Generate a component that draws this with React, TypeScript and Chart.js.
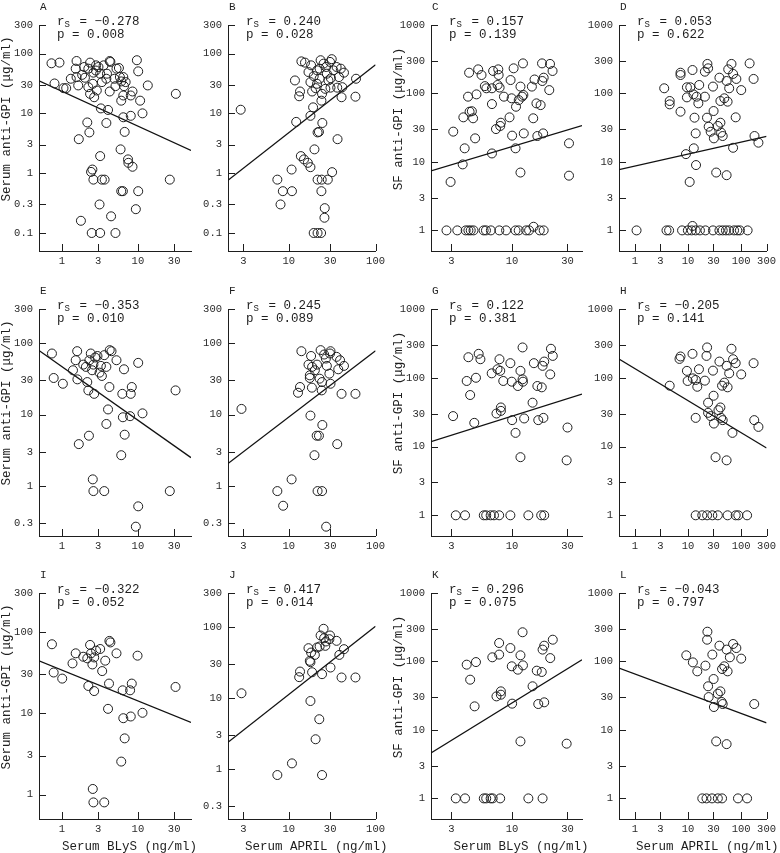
import React, { useEffect, useRef } from "react";
import { Chart, registerables } from "chart.js";
Chart.register(...registerables);

// ---------- tick labels ----------
const yTicksSerum8 = [0.1, 0.3, 1, 3, 10, 30, 100, 300];
const yTicksSerum7 = [0.3, 1, 3, 10, 30, 100, 300];
const yTicksSerum6 = [1, 3, 10, 30, 100, 300];
const yTicksSF = [1, 3, 10, 30, 100, 300, 1000];
const xTicksBlysSerum = [1, 3, 10, 30];
const xTicksAprilSerum = [3, 10, 30, 100];
const xTicksBlysSF = [3, 10, 30];
const xTicksAprilSF = [1, 3, 10, 30, 100, 300];

// ---------- axis ranges ----------
const rangeBlysSerum = [0.5, 50];
const rangeAprilSerum = [2, 100];
const rangeBlysSF = [2, 40];
const rangeAprilSF = [0.5, 300];
const yRangeRow1Serum = [0.05, 300];
const yRangeRow2Serum = [0.2, 300];
const yRangeISerum = [0.5, 300];
const yRangeJSerum = [0.2, 300];
const yRangeSF = [0.5, 1000];

// ---------- titles ----------
const panelLetters = ["A", "B", "C", "D", "E", "F", "G", "H", "I", "J", "K", "L"];
const rsValues = ["\u22120.278", "0.240", "0.157", "0.053", "\u22120.353", "0.245", "0.122", "\u22120.205", "\u22120.322", "0.417", "0.296", "\u22120.043"];
const pValues = ["0.008", "0.028", "0.139", "0.622", "0.010", "0.089", "0.381", "0.141", "0.052", "0.014", "0.075", "0.797"];
const yTitleSerum = "Serum anti-GPI (\u03bcg/ml)";
const yTitleSF = "SF anti-GPI (\u03bcg/ml)";
const xTitleBlys = "Serum BLyS (ng/ml)";
const xTitleApril = "Serum APRIL (ng/ml)";

// ---------- regression lines (endpoints at axis limits) ----------
const lineA = [[0.5, 35], [50, 2.4]];
const lineB = [[2, 0.76], [100, 65]];
const lineC = [[2, 7.4], [40, 34]];
const lineD = [[0.5, 7.7], [300, 23.7]];
const lineE = [[0.5, 79], [50, 2.5]];
const lineF = [[2, 2.07], [100, 78]];
const lineG = [[2, 11.8], [40, 58]];
const lineH = [[0.5, 187], [300, 9.5]];
const lineI = [[0.5, 44], [50, 7.7]];
const lineJ = [[2, 2.4], [100, 102]];
const lineK = [[2, 4.6], [40, 106]];
const lineL = [[0.5, 80], [300, 12.7]];

// ---------- scatter points [x, y] ----------
const pointsA = [
  [0.73, 68.7], [0.93, 70.5], [0.8, 31.6], [1.05, 26.4], [1.14, 26.4], [1.31, 37.9], [1.56, 75], [1.52, 55.9], [1.56, 40.4], [1.64, 29.3],
  [2.01, 39.4], [1.97, 59.6], [2.35, 70.5], [2.23, 55.9], [2.23, 27.4], [2.35, 21.2], [2.55, 31.2], [2.6, 47.9], [2.66, 18.6], [2.88, 24.1],
  [3.03, 59.6], [2.82, 63.5], [3.19, 46], [3.36, 33.3], [3.54, 63.5], [3.85, 37.9], [3.92, 46], [4.26, 75], [4.35, 72.4], [4.26, 23.2],
  [4.92, 37.9], [5.23, 55.9], [5.07, 28.5], [5.63, 57.3], [5.8, 40.4], [6.04, 34.2], [6.43, 40.4], [6.57, 28.5], [6.04, 16.3], [6.43, 19.9],
  [6.9, 33.3], [8.06, 19.9], [8.5, 23.2], [9.7, 77.3], [10.1, 50.4], [10.7, 16.3], [13.5, 29.3], [31.6, 21.2], [2.8, 52], [1.85, 44],
  [3.26, 12.1], [4.05, 11.4], [6.43, 8.6], [8.06, 9.1], [11.5, 10], [3.85, 6.9], [2.16, 7.05], [2.3, 4.8], [1.67, 3.7], [6.7, 4.9],
  [5.92, 2.5], [3.19, 1.93], [7.42, 1.7], [7.5, 1.49], [8.5, 1.28], [2.52, 1.15], [2.42, 1.05], [2.6, 0.78], [3.36, 0.78], [3.65, 0.78],
  [26.3, 0.78], [6.04, 0.5], [6.35, 0.5], [10.1, 0.5], [3.13, 0.3], [9.4, 0.25], [4.44, 0.19], [1.78, 0.16], [2.47, 0.1], [3.19, 0.1], [5.07, 0.1],
];
const pointsB = [
  [2.8, 11.5], [7.4, 0.78], [8.05, 0.3], [8.56, 0.5], [10.8, 1.15], [10.9, 0.5], [11.8, 35.5], [12.2, 7.2], [13.5, 23.2], [13.2, 19.3],
  [14, 74], [13.8, 1.93], [15, 1.7], [16.6, 1.49], [17.8, 1.26], [15.4, 70.5], [16.9, 49], [17.8, 9.1], [17.8, 33.3], [18.1, 63.5],
  [18.6, 23.2], [19.1, 12.6], [19.4, 42], [19.8, 2.5], [19.4, 0.1], [20.4, 26.4], [21.2, 52.4], [21.2, 31.2], [21.5, 4.8], [22.3, 4.9],
  [21.5, 0.78], [21.5, 0.1], [22.7, 37.9], [23.3, 77.3], [23.6, 0.1], [23.8, 16.3], [24, 0.78], [23.8, 0.5], [24.2, 21.2], [24.4, 6.9],
  [25.2, 67.8], [26, 0.26], [25.8, 0.18], [26.4, 25.7], [27.5, 46], [27, 59.6], [28.2, 0.78], [29.9, 72.4], [30.3, 26.9], [30.6, 38.6],
  [31.3, 80.5], [31.6, 1.04], [32.7, 52.4], [35.6, 59.6], [36.2, 26.9], [36.5, 3.7], [37.9, 40.4], [39.8, 55.9], [40.6, 18.6], [41.4, 27.4],
  [43.3, 47.9], [58.7, 19], [59.6, 37.9], [22.7, 55.9], [28.7, 35.5],
];
const pointsC = [
  [2.72, 1], [3.37, 1], [3.98, 1], [4.2, 1], [4.4, 1], [4.65, 1], [5.68, 1], [5.95, 1], [6.56, 1], [7.76, 1],
  [8.87, 1], [10.7, 1], [11.4, 1], [13.2, 1], [14, 1], [15.3, 1.13], [17.3, 1], [18.7, 1],
  [2.95, 5.1], [3.11, 27.7], [3.75, 9.2], [3.9, 15.8], [3.8, 44.8], [4.17, 89.8], [4.26, 201], [4.3, 54.2], [4.5, 55], [4.61, 43.4],
  [4.8, 22.1], [4.93, 97], [5.1, 225], [5.45, 186], [5.82, 128], [6, 119], [6.7, 119], [6.7, 70], [6.7, 13.3], [6.86, 213],
  [7.26, 30.2], [7.6, 225], [7.65, 186], [7.5, 133], [7.8, 122], [7.9, 33.5], [8, 37.4], [8.5, 89.8], [9.5, 44.8], [9.7, 157],
  [9.9, 85], [10, 24.2], [10.3, 233], [10.7, 15.8], [10.8, 64], [11.4, 80], [11.8, 7], [11.8, 126], [12.2, 89.8], [12.4, 275],
  [12.5, 95], [12.6, 26.1], [14.8, 126], [15.2, 43.4], [15.6, 160], [16.2, 71.7], [16.5, 23.9], [17.6, 67.6], [18.1, 275], [18.2, 152],
  [18.7, 170], [18.5, 26.1], [20.9, 112], [21.2, 270], [22.3, 213], [30.9, 18.7], [30.9, 6.3],
];
const pointsD = [
  [1.07, 1], [3.92, 1], [4.39, 1], [7.7, 1], [9.9, 1], [11.7, 1], [12.1, 1.16], [13.9, 1], [16.7, 1], [21.2, 1],
  [29.4, 1], [38.9, 1], [44.8, 1], [51.6, 1], [59.4, 1], [73.3, 1], [84.5, 1], [94.5, 1], [132, 1],
  [3.55, 119], [4.5, 77.6], [4.5, 69.3], [7.2, 201], [7.2, 186], [7.2, 54.2], [9.5, 123], [9.5, 87.7], [9.1, 13], [10.7, 5.1],
  [11, 123], [12.1, 220], [12.6, 97], [12.8, 15.8], [13.2, 44.3], [13.9, 26.1], [14.1, 9], [14.5, 89.8], [15.6, 71.7], [16.2, 133],
  [20.7, 89.8], [20.7, 208], [23.1, 270], [23.8, 233], [22.7, 44.3], [24.4, 32.7], [26.6, 27.6], [29.4, 126], [30.2, 55.4], [30.6, 22.1],
  [33.8, 7], [36.3, 33.5], [40.6, 37.4], [38.9, 170], [40.6, 77.6], [41.8, 26.8], [44.8, 23.9], [48.1, 85], [53.1, 152], [55.4, 75.9],
  [53.1, 6.4], [57, 225], [59.4, 119], [65.6, 270], [70.3, 193], [70.3, 16.1], [78.7, 44.8], [81, 163], [100, 112], [144, 275],
  [171, 163], [178, 23.9], [211, 19.1],
];
const pointsE = [
  [0.74, 71.5], [0.78, 32.5], [1.03, 27], [1.4, 41.7], [1.52, 57.6], [1.59, 77.1], [1.6, 31.1], [1.67, 3.86], [1.91, 50], [2.07, 46.5],
  [2.16, 28.5], [2.23, 21.8], [2.27, 5.06], [2.3, 57.6], [2.4, 71.5], [2.5, 41.7], [2.6, 50], [2.66, 19.5], [2.55, 1.24], [2.6, 0.85],
  [2.74, 62.9], [2.94, 66], [3.13, 38.6], [3.26, 48], [3.36, 34.7], [3.61, 67.8], [3.61, 0.85], [3.85, 7.39], [3.85, 46.5], [4.05, 11.8],
  [4.22, 24.3], [4.26, 79.7], [4.5, 77], [5.23, 57.6], [6.24, 19.5], [6.35, 9.17], [6.57, 43], [6.7, 5.23], [6.04, 2.7], [7.9, 9.5],
  [8.06, 19.5], [8.31, 24.3], [10.1, 0.52], [9.4, 0.27], [10.1, 52.9], [11.5, 10.4], [26.3, 0.85], [31.3, 21.8],
];
const pointsF = [
  [2.86, 12], [7.4, 0.85], [8.63, 0.53], [10.8, 1.24], [12.8, 20.2], [13.5, 24.3], [14, 77], [16.9, 50], [17.8, 9.68], [17.5, 35.4],
  [17.5, 32.5], [18.1, 66], [18.5, 23.8], [18.6, 46.5], [19.8, 2.7], [20, 41.7], [21, 5.06], [21.2, 50], [21.5, 0.85], [22.3, 5.06],
  [22.7, 31.8], [23.3, 79.7], [24, 21.8], [24.2, 0.85], [24.4, 7.15], [24.2, 28.5], [25.6, 69.2], [26.8, 60.8], [27, 0.27], [27.5, 48],
  [29.4, 37.4], [29.9, 71.5], [30.3, 77], [30.3, 27], [35.6, 64.2], [36.2, 3.86], [37.2, 43], [39, 57.6], [40.6, 19.5], [43.3, 48],
  [58.7, 19.5],
];
const pointsG = [
  [3.27, 1], [3.93, 1], [5.7, 1], [5.98, 1], [6.53, 1], [6.98, 1], [7.73, 1], [9.66, 1], [13.8, 1], [17.8, 1], [18.9, 1],
  [3.1, 27.7], [4.06, 89.8], [4.2, 199], [4.35, 56.1], [4.72, 22.1], [4.88, 100], [5.15, 223], [5.33, 186], [6.67, 116], [7.33, 30.2],
  [7.48, 133], [7.78, 186], [7.9, 126], [8, 33], [8, 37], [8.39, 89.8], [9.66, 163], [9.93, 87.7], [10, 24.2], [10.7, 15.8],
  [11.2, 75.9], [11.8, 7], [11.8, 126], [12.3, 95], [12.3, 276], [12.4, 87.7], [12.7, 25.6], [15, 43.4], [15.4, 163], [16.5, 75.9],
  [16.8, 24.2], [18, 72.6], [18.3, 149], [18.6, 26.1], [18.9, 172], [21.3, 112], [21.6, 264], [22.4, 208], [30, 18.9], [29.5, 6.3],
];
const pointsH = [
  [13.9, 1], [18.5, 1], [22.8, 1], [28.6, 1], [36.3, 1], [55.4, 1], [78.7, 1], [88.1, 1], [129, 1],
  [4.5, 76.7], [6.89, 188], [7.2, 204], [9.5, 126], [9.8, 89.8], [12.1, 223], [12.3, 98], [13.9, 93], [13.9, 26.1], [14.9, 74],
  [16, 133], [20.7, 90.8], [22.2, 208], [22.8, 276], [23.8, 43.4], [23.8, 30.9], [26.6, 27.7], [29.4, 127], [30.2, 54.8], [30.6, 21.6],
  [32.9, 7], [37.3, 33.8], [40.6, 37], [38.9, 172], [41.8, 26.1], [43.6, 76.7], [44.8, 24.2], [48.1, 85], [53.1, 149], [55.4, 72.6],
  [53.1, 6.3], [59.4, 116], [65.6, 264], [68.4, 15.8], [70.3, 186], [78.7, 163], [100, 112], [171, 163], [176, 24.2], [211, 19.3],
];
const pointsI = [
  [0.74, 70.3], [0.78, 31.6], [1.01, 26.6], [1.38, 40.9], [1.52, 54.4], [1.91, 49.4], [2.16, 47.2], [2.23, 21.6], [2.35, 69], [2.42, 54.4],
  [2.52, 39.7], [2.66, 48.4], [2.66, 18.7], [2.82, 58.7], [3.19, 61.5], [2.55, 1.17], [2.6, 0.8], [3.61, 0.8], [3.39, 32.9], [3.72, 44.2],
  [4.17, 23.1], [4.05, 11.3], [4.22, 77.3], [4.35, 74], [5.23, 54.4], [6.04, 2.54], [6.3, 19.1], [6.43, 8.67], [6.7, 4.9], [7.9, 19.1],
  [8.06, 9.1], [8.31, 23.1], [9.9, 50.9], [11.5, 10.1], [31.3, 21],
];
const pointsJ = [
  [2.86, 11.7], [7.4, 0.83], [10.9, 1.21], [13.2, 19.7], [13.5, 23.6], [16.9, 50.3], [17.5, 33.4], [17.8, 32], [17.8, 9.1], [18.1, 43.7],
  [18.6, 23.1], [20, 40.5], [20.4, 2.64], [21.2, 51.4], [22.5, 5.05], [22.7, 53.1], [23.3, 75.9], [24.2, 21.7], [24.2, 0.83], [25.2, 94.2],
  [25.6, 69.5], [26.4, 54.3], [26.8, 62.5], [29.4, 67.3], [29.9, 75.9], [30.3, 26.9], [35.6, 63.8], [38.3, 40.5], [40.6, 19.5], [43.3, 48.7],
  [58.7, 19.5],
];
const pointsK = [
  [3.27, 1], [3.93, 1], [5.7, 1], [5.98, 1], [6.53, 1], [6.8, 1], [7.89, 1], [13.8, 1], [18.3, 1],
  [4.06, 89.8], [4.35, 54.2], [4.88, 98], [4.75, 22.1], [6.75, 115], [7.33, 30.9], [7.73, 126], [7.73, 186], [8, 32.7], [8, 36.6],
  [9.66, 157], [9.93, 85], [10, 24.2], [11.2, 75.9], [11.8, 6.8], [11.8, 123], [12.3, 267], [12.4, 87.7], [15, 43.4], [16.3, 73.4],
  [16.8, 23.9], [18, 70.2], [18.3, 149], [18.9, 25.3], [18.9, 170], [21.3, 112], [22.4, 208], [29.5, 6.3],
];
const pointsL = [
  [18.5, 1], [22.2, 1], [28.2, 1], [36.3, 1], [43.6, 1], [86.9, 1], [129, 1],
  [9.25, 123], [12.3, 97], [14.9, 71.7], [21.2, 86.9], [22.8, 208], [23.1, 272], [23.8, 43.4], [24.4, 30.2], [28.6, 126], [30.2, 55.4],
  [30.6, 21.6], [33.8, 6.8], [36.3, 33.8], [40.6, 36.6], [38.9, 170], [42.9, 25.6], [43.6, 77.6], [44.8, 23.9], [48.1, 85], [55.4, 71.7],
  [53.1, 6.2], [53.1, 149], [61.1, 115], [70.3, 180], [81, 157], [100, 110], [176, 23.9],
];

// ---------- layout (pixel geometry of plot areas) ----------
const COLS = [
  { L: 39, R: 191 },
  { L: 228, R: 379 },
  { L: 431, R: 582 },
  { L: 619, R: 770 },
];
const ROWS = [
  { T: 25, B: 251 },
  { T: 309, B: 536 },
  { T: 593, B: 819 },
];
const PAD_TOP = 25;
const PAD_RIGHT = 10;
const Y_AXIS_W = 45;
const X_AXIS_H = 36;
const FONT = '"Liberation Mono", "DejaVu Sans Mono", monospace';
const INK = "#1e1e1e";

type PanelDef = {
  idx: number;
  row: number;
  col: number;
  pts: number[][];
  line: number[][];
  xRange: number[];
  yRange: number[];
  xTicks: number[];
  yTicks: number[];
  yTitle?: string;
  xTitle?: string;
};

const PANELS: PanelDef[] = [
  { idx: 0, row: 0, col: 0, pts: pointsA, line: lineA, xRange: rangeBlysSerum, yRange: yRangeRow1Serum, xTicks: xTicksBlysSerum, yTicks: yTicksSerum8, yTitle: yTitleSerum },
  { idx: 1, row: 0, col: 1, pts: pointsB, line: lineB, xRange: rangeAprilSerum, yRange: yRangeRow1Serum, xTicks: xTicksAprilSerum, yTicks: yTicksSerum8 },
  { idx: 2, row: 0, col: 2, pts: pointsC, line: lineC, xRange: rangeBlysSF, yRange: yRangeSF, xTicks: xTicksBlysSF, yTicks: yTicksSF, yTitle: yTitleSF },
  { idx: 3, row: 0, col: 3, pts: pointsD, line: lineD, xRange: rangeAprilSF, yRange: yRangeSF, xTicks: xTicksAprilSF, yTicks: yTicksSF },
  { idx: 4, row: 1, col: 0, pts: pointsE, line: lineE, xRange: rangeBlysSerum, yRange: yRangeRow2Serum, xTicks: xTicksBlysSerum, yTicks: yTicksSerum7, yTitle: yTitleSerum },
  { idx: 5, row: 1, col: 1, pts: pointsF, line: lineF, xRange: rangeAprilSerum, yRange: yRangeRow2Serum, xTicks: xTicksAprilSerum, yTicks: yTicksSerum7 },
  { idx: 6, row: 1, col: 2, pts: pointsG, line: lineG, xRange: rangeBlysSF, yRange: yRangeSF, xTicks: xTicksBlysSF, yTicks: yTicksSF, yTitle: yTitleSF },
  { idx: 7, row: 1, col: 3, pts: pointsH, line: lineH, xRange: rangeAprilSF, yRange: yRangeSF, xTicks: xTicksAprilSF, yTicks: yTicksSF },
  { idx: 8, row: 2, col: 0, pts: pointsI, line: lineI, xRange: rangeBlysSerum, yRange: yRangeISerum, xTicks: xTicksBlysSerum, yTicks: yTicksSerum6, yTitle: yTitleSerum, xTitle: xTitleBlys },
  { idx: 9, row: 2, col: 1, pts: pointsJ, line: lineJ, xRange: rangeAprilSerum, yRange: yRangeJSerum, xTicks: xTicksAprilSerum, yTicks: yTicksSerum7, xTitle: xTitleApril },
  { idx: 10, row: 2, col: 2, pts: pointsK, line: lineK, xRange: rangeBlysSF, yRange: yRangeSF, xTicks: xTicksBlysSF, yTicks: yTicksSF, yTitle: yTitleSF, xTitle: xTitleBlys },
  { idx: 11, row: 2, col: 3, pts: pointsL, line: lineL, xRange: rangeAprilSF, yRange: yRangeSF, xTicks: xTicksAprilSF, yTicks: yTicksSF, xTitle: xTitleApril },
];

function Panel({ def }: { def: PanelDef }) {
  const ref = useRef<HTMLCanvasElement | null>(null);
  const { L, R } = COLS[def.col];
  const { T, B } = ROWS[def.row];
  const w = R - L + Y_AXIS_W + PAD_RIGHT;
  const h = B - T + PAD_TOP + X_AXIS_H;

  useEffect(() => {
    const canvas = ref.current;
    if (!canvas) return;

    const decor = {
      id: "panelDecor",
      afterDraw(chart: any) {
        const ctx = chart.ctx as CanvasRenderingContext2D;
        const ca = chart.chartArea;
        const xs = chart.scales.x;
        const ys = chart.scales.y;
        ctx.save();
        // inward tick marks
        ctx.strokeStyle = INK;
        ctx.lineWidth = 1;
        ctx.beginPath();
        for (const v of def.xTicks) {
          const px = Math.round(xs.getPixelForValue(v)) + 0.5;
          ctx.moveTo(px, ca.bottom);
          ctx.lineTo(px, ca.bottom - 7);
        }
        for (const v of def.yTicks) {
          const py = Math.round(ys.getPixelForValue(v)) + 0.5;
          ctx.moveTo(ca.left, py);
          ctx.lineTo(ca.left + 7, py);
        }
        ctx.stroke();

        ctx.fillStyle = INK;
        ctx.textBaseline = "middle";
        ctx.textAlign = "left";
        // panel letter
        ctx.font = `11px ${FONT}`;
        ctx.fillText(panelLetters[def.idx], ca.left + 1, ca.top - 18);
        // statistics
        ctx.font = `12.5px ${FONT}`;
        const cw = ctx.measureText("0").width;
        const sx = ca.left + 18;
        const y1 = ca.top - 3.5;
        ctx.fillText("r", sx, y1);
        ctx.font = `9px ${FONT}`;
        ctx.fillText("S", sx + cw, y1 + 3);
        ctx.font = `12.5px ${FONT}`;
        ctx.fillText(" = " + rsValues[def.idx], sx + 2 * cw, y1);
        ctx.fillText("p = " + pValues[def.idx], sx, ca.top + 10);
        // axis titles
        if (def.yTitle) {
          ctx.save();
          ctx.translate(ca.left - 32.5, ca.top + 94);
          ctx.rotate(-Math.PI / 2);
          ctx.textAlign = "center";
          ctx.fillText(def.yTitle, 0, 0);
          ctx.restore();
        }
        if (def.xTitle) {
          ctx.textAlign = "center";
          ctx.fillText(def.xTitle, (ca.left + ca.right) / 2 + 14.5, ca.bottom + 28);
        }
        ctx.restore();
      },
    };

    const tickFont = { family: FONT, size: 10.5 };
    const chart = new Chart(canvas, {
      type: "scatter",
      data: {
        datasets: [
          {
            data: def.pts.map(([x, y]) => ({ x, y })),
            pointRadius: 4.5,
            pointHoverRadius: 4.5,
            pointStyle: "circle",
            borderColor: INK,
            borderWidth: 1,
            backgroundColor: "rgba(0,0,0,0)",
          },
          {
            data: def.line.map(([x, y]) => ({ x, y })),
            showLine: true,
            pointRadius: 0,
            borderColor: "#111",
            borderWidth: 1.3,
            fill: false,
          },
        ],
      },
      options: {
        responsive: false,
        animation: false,
        devicePixelRatio: 1,
        events: [],
        layout: { padding: { top: PAD_TOP, right: PAD_RIGHT, left: 0, bottom: 0 } },
        plugins: { legend: { display: false }, tooltip: { enabled: false } },
        scales: {
          x: {
            type: "logarithmic",
            min: def.xRange[0],
            max: def.xRange[1],
            afterFit: (s: any) => {
              s.height = X_AXIS_H;
            },
            afterBuildTicks: (s: any) => {
              s.ticks = def.xTicks.map((v) => ({ value: v }));
            },
            ticks: {
              callback: (v: any) => String(v),
              autoSkip: false,
              maxRotation: 0,
              minRotation: 0,
              padding: 4,
              font: tickFont,
              color: "#2a2a2a",
            },
            grid: { display: false, drawTicks: false },
            border: { display: true, color: INK, width: 1 },
          },
          y: {
            type: "logarithmic",
            min: def.yRange[0],
            max: def.yRange[1],
            afterFit: (s: any) => {
              s.width = Y_AXIS_W;
            },
            afterBuildTicks: (s: any) => {
              s.ticks = def.yTicks.map((v) => ({ value: v }));
            },
            ticks: {
              callback: (v: any) => String(v),
              autoSkip: false,
              padding: 6,
              font: tickFont,
              color: "#2a2a2a",
            },
            grid: { display: false, drawTicks: false },
            border: { display: true, color: INK, width: 1 },
          },
        },
      },
      plugins: [decor],
    } as any);
    return () => chart.destroy();
  }, []);

  return (
    <canvas
      ref={ref}
      width={w}
      height={h}
      style={{ position: "absolute", left: L - Y_AXIS_W, top: T - PAD_TOP, width: w, height: h }}
    />
  );
}

export default function App() {
  return (
    <div
      style={{
        position: "fixed",
        left: 0,
        top: 0,
        width: 780,
        height: 853,
        overflow: "hidden",
        background: "#fff",
      }}
    >
      {PANELS.map((d) => (
        <Panel key={d.idx} def={d} />
      ))}
    </div>
  );
}
